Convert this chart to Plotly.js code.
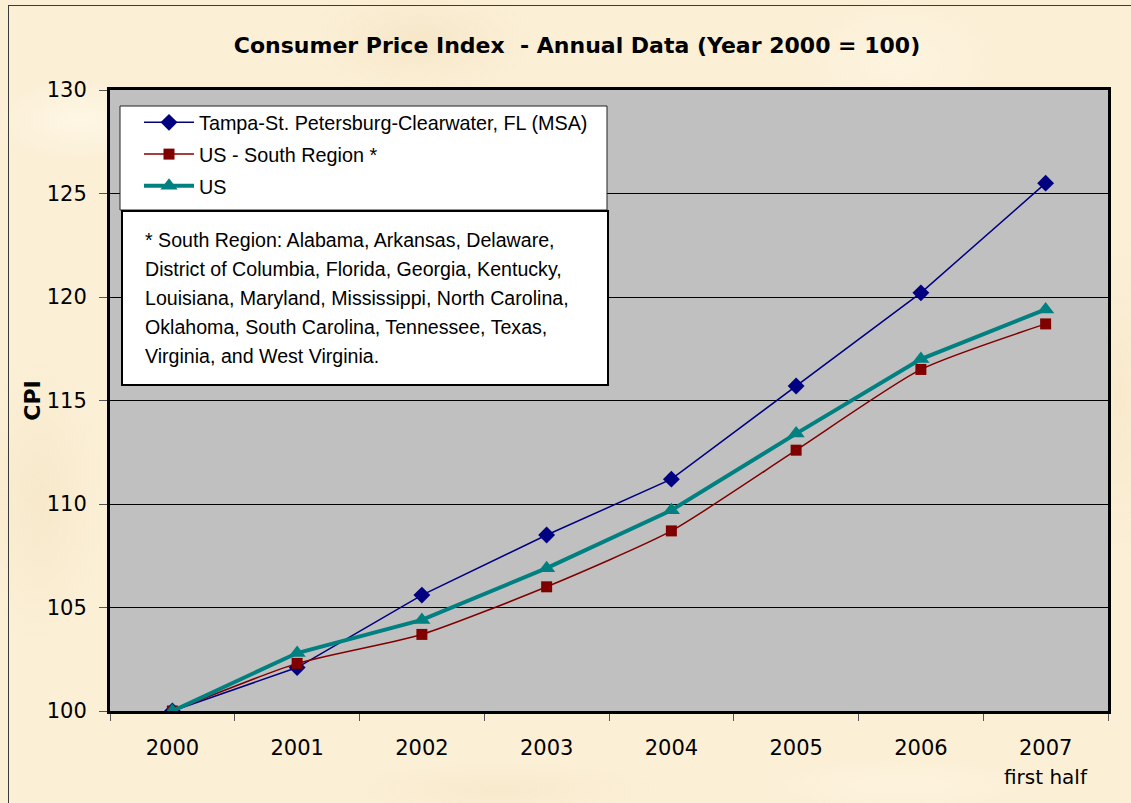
<!DOCTYPE html>
<html>
<head>
<meta charset="utf-8">
<script src="https://cdn.plot.ly/plotly-3.0.1.min.js"></script>
<style>
  html, body { margin: 0; padding: 0; width: 1131px; height: 803px; overflow: hidden; }
  body {
    background-color: #fbefd6;
    background-image:
      radial-gradient(ellipse 120px 60px at 80px 120px, rgba(255,250,235,0.7), rgba(255,250,235,0) 70%),
      radial-gradient(ellipse 160px 80px at 420px 40px, rgba(240,222,185,0.45), rgba(240,222,185,0) 70%),
      radial-gradient(ellipse 140px 90px at 900px 60px, rgba(255,248,230,0.6), rgba(255,248,230,0) 70%),
      radial-gradient(ellipse 90px 200px at 40px 500px, rgba(242,226,190,0.5), rgba(242,226,190,0) 70%),
      radial-gradient(ellipse 60px 240px at 1120px 400px, rgba(245,228,195,0.5), rgba(245,228,195,0) 70%),
      radial-gradient(ellipse 220px 40px at 500px 790px, rgba(244,228,194,0.5), rgba(244,228,194,0) 70%),
      radial-gradient(ellipse 200px 40px at 900px 785px, rgba(255,246,226,0.6), rgba(255,246,226,0) 70%);
  }
  #frame { position: absolute; left: 8px; top: 5px; width: 1200px; height: 900px;
           border-left: 1.5px solid #3a3a3a; border-top: 1.5px solid #3a3a3a; pointer-events: none; }
  #chart { position: absolute; left: 0; top: 0; width: 1131px; height: 803px; }
</style>
</head>
<body>
<div id="frame"></div>
<div id="chart"></div>
<script>
// ---- data ----
const years = ['2000', '2001', '2002', '2003', '2004', '2005', '2006', '2007'];
const tampa = [100, 102.1, 105.6, 108.5, 111.2, 115.7, 120.2, 125.5];
const southRegion = [100, 102.3, 103.7, 106.0, 108.7, 112.6, 116.5, 118.7];
const usAll = [100, 102.8, 104.4, 106.9, 109.7, 113.4, 117.0, 119.4];
const seriesNames = ['Tampa-St. Petersburg-Clearwater, FL (MSA)', 'US - South Region *', 'US'];
const yTicks = [100, 105, 110, 115, 120, 125, 130];
const noteLines = [
  '* South Region: Alabama, Arkansas, Delaware,',
  'District of Columbia, Florida, Georgia, Kentucky,',
  'Louisiana, Maryland, Mississippi, North Carolina,',
  'Oklahoma, South Carolina, Tennessee, Texas,',
  'Virginia, and West Virginia.'
];
const titleText = '<b>Consumer Price Index  - Annual Data (Year 2000 = 100)</b>';

// ---- layout helpers ----
const W = 1131, H = 803;
const L = 110, R = 23, T = 90, B = 92;
const pw = W - L - R, ph = H - T - B;
const px2x = p => (p - L) / pw;
const px2y = p => (H - B - p) / ph;

const font = 'Liberation Sans, Arial, sans-serif';
const wide = 'DejaVu Sans, Verdana, sans-serif';

const traces = [
  { x: years, y: tampa, name: seriesNames[0], type: 'scatter', mode: 'lines+markers',
    legendgroup: 'a',
    line: { color: '#000080', width: 1.5 },
    marker: { symbol: 'diamond', size: 13, color: '#000080' } },
  { x: years, y: southRegion, name: seriesNames[1], type: 'scatter', mode: 'lines+markers',
    legendgroup: 'b',
    line: { color: '#800000', width: 1.5, shape: 'spline', smoothing: 0.6 },
    marker: { symbol: 'square', size: 11, color: '#800000' } },
  { x: years, y: usAll, name: seriesNames[2], type: 'scatter', mode: 'lines+markers',
    legendgroup: 'c',
    line: { color: '#008080', width: 4 },
    marker: { symbol: 'triangle-up', size: 15, color: '#008080' } }
];

const annotations = noteLines.map((t, i) => ({
  text: t, xref: 'paper', yref: 'paper', x: px2x(143), y: px2y(240 + i * 29),
  xanchor: 'left', yanchor: 'middle', showarrow: false, align: 'left',
  font: { family: font, size: 19.6, color: '#000' }
}));
annotations.push({
  text: 'first half', xref: 'x', yref: 'paper', x: 7, y: px2y(777),
  xanchor: 'center', yanchor: 'middle', showarrow: false,
  font: { family: wide, size: 20, color: '#000' }
});

const layout = {
  width: W, height: H,
  margin: { l: L, r: R, t: T, b: B, pad: 0 },
  paper_bgcolor: 'rgba(0,0,0,0)',
  plot_bgcolor: '#c0c0c0',
  font: { family: font, color: '#000', size: 18 },
  title: { text: titleText, xref: 'container', yref: 'container',
           x: 577 / W, y: 1 - 45 / H, xanchor: 'center', yanchor: 'middle',
           font: { family: wide, size: 22, color: '#000' } },
  xaxis: {
    type: 'category', categoryarray: years, range: [-0.5, 7.5],
    tickson: 'boundaries', ticks: 'outside', ticklen: 7, tickcolor: '#555', tickwidth: 1,
    showline: true, linecolor: '#000', linewidth: 3, mirror: true,
    showgrid: false, zeroline: false, ticklabelstandoff: 16,
    tickfont: { family: wide, size: 21, color: '#000' }, fixedrange: true
  },
  yaxis: {
    range: [100, 130], tickvals: yTicks, ticktext: yTicks.map(String),
    ticks: 'outside', ticklen: 8, tickcolor: '#555', tickwidth: 1,
    showline: true, linecolor: '#000', linewidth: 3, mirror: true,
    showgrid: true, gridcolor: '#000', gridwidth: 1, zeroline: false,
    ticklabelstandoff: 8,
    tickfont: { family: wide, size: 21, color: '#000' },
    title: { text: '<b>CPI</b>', standoff: 1, font: { family: wide, size: 22, color: '#000' } },
    automargin: false, fixedrange: true
  },
  legend: {
    x: px2x(139), y: px2y(103), xanchor: 'left', yanchor: 'top',
    bgcolor: 'rgba(0,0,0,0)', borderwidth: 0,
    itemwidth: 50, tracegroupgap: 3, traceorder: 'grouped',
    font: { family: font, size: 19.8, color: '#000' }
  },
  shapes: [
    { type: 'rect', xref: 'paper', yref: 'paper', layer: 'above',
      x0: px2x(120), x1: px2x(607), y0: px2y(106), y1: px2y(210),
      fillcolor: '#fff', line: { color: '#222', width: 1 } },
    { type: 'rect', xref: 'paper', yref: 'paper', layer: 'above',
      x0: px2x(122), x1: px2x(608), y0: px2y(211), y1: px2y(385),
      fillcolor: '#fff', line: { color: '#000', width: 2 } }
  ],
  annotations: annotations,
  showlegend: true
};

Plotly.newPlot('chart', traces, layout, { displayModeBar: false, staticPlot: true });
</script>
</body>
</html>
